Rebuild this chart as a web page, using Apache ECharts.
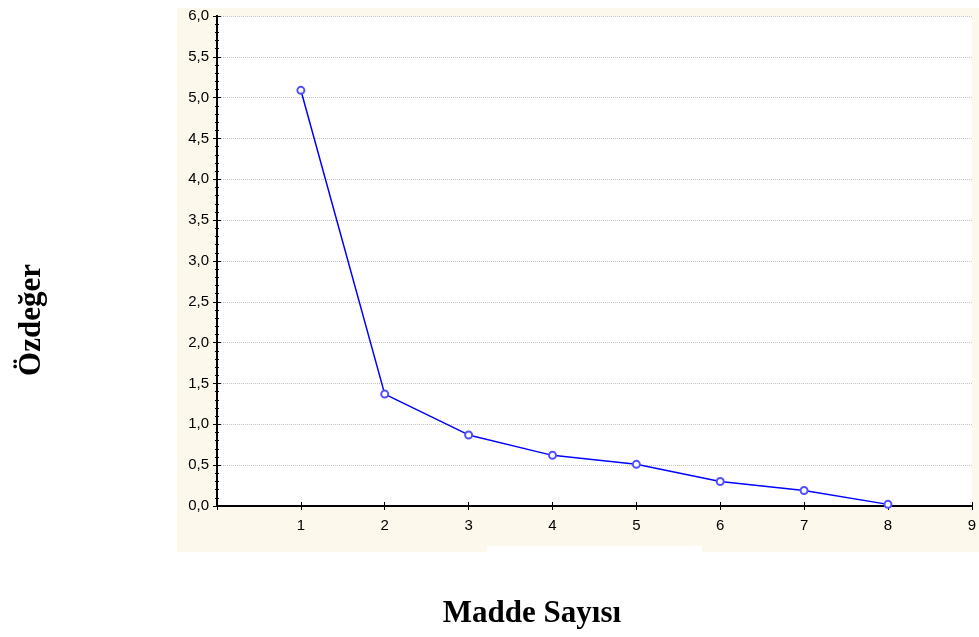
<!DOCTYPE html>
<html><head><meta charset="utf-8">
<script src="https://cdn.jsdelivr.net/npm/echarts@6/dist/echarts.min.js"></script>
<style>html,body{margin:0;padding:0;background:#fff}#c{width:979px;height:637px}</style>
</head><body><div id="c"></div>
<script>
const items = [1, 2, 3, 4, 5, 6, 7, 8];
const eigenvalues = [5.09, 1.37, 0.87, 0.62, 0.51, 0.30, 0.19, 0.02];
const yTitle = 'Özdeğer';
const xTitle = 'Madde Sayısı';

const chart = echarts.init(document.getElementById('c'));
const fmtY = v => v.toFixed(1).replace('.', ',');
const lineS = () => ({show: true, lineStyle: {color: '#000', width: 2}});
const tickS = () => ({show: true, inside: true, length: 4, lineStyle: {color: '#000', width: 1}});
const minorS = () => ({show: true, splitNumber: 5, length: 2, lineStyle: {color: '#000', width: 1}});
const labelFont = 'Liberation Sans';
chart.setOption({
  animation: false,
  graphic: [
    {type: 'rect', z: -10, shape: {x: 177, y: 8, width: 802, height: 544}, style: {fill: '#fdf8ec'}},
    {type: 'rect', z: -9, shape: {x: 487, y: 546, width: 215, height: 6}, style: {fill: '#fff'}},
    {type: 'text', x: 32, y: 320, rotation: Math.PI / 2,
      style: {text: yTitle, font: 'bold 31px "Liberation Serif", "Times New Roman", serif', fill: '#000',
        textAlign: 'center', textVerticalAlign: 'middle'}},
    {type: 'text', x: 532, y: 614,
      style: {text: xTitle, font: 'bold 31px "Liberation Serif", "Times New Roman", serif', fill: '#000',
        textAlign: 'center', textVerticalAlign: 'middle'}}
  ],
  grid: {left: 217, top: 16, right: 1, bottom: 131, show: true, backgroundColor: '#fff', borderWidth: 0},
  xAxis: [
    {type: 'value', min: 0, max: 9, interval: 1, position: 'bottom',
      axisLine: lineS(), axisTick: tickS(), minorTick: {show: false},
      axisLabel: {color: '#000', fontSize: 15, fontFamily: labelFont, margin: 12,
        formatter: v => v === 0 ? '' : String(v)},
      splitLine: {show: false}},
    {type: 'value', min: 0, max: 9, interval: 1, position: 'top',
      axisLine: lineS(), axisTick: tickS(), minorTick: {show: false},
      axisLabel: {show: false}, splitLine: {show: false}}
  ],
  yAxis: [
    {type: 'value', min: 0, max: 6, interval: 0.5, position: 'left',
      axisLine: lineS(), axisTick: tickS(), minorTick: minorS(),
      axisLabel: {color: '#000', fontSize: 15, fontFamily: labelFont, margin: 8, formatter: fmtY},
      splitLine: {show: true, lineStyle: {color: '#c4c4c4', type: 'dotted', width: 1}}},
    {type: 'value', min: 0, max: 6, interval: 0.5, position: 'right',
      axisLine: lineS(), axisTick: tickS(), minorTick: minorS(),
      axisLabel: {show: false}, splitLine: {show: false}}
  ],
  series: [{
    type: 'line',
    data: items.map((x, i) => [x, eigenvalues[i]]),
    lineStyle: {color: '#0000ff', width: 1.5},
    symbol: 'emptyCircle', symbolSize: 7,
    itemStyle: {color: '#5050ff', borderColor: '#5050ff', borderWidth: 1},
    z: 5
  }]
});
</script></body></html>
